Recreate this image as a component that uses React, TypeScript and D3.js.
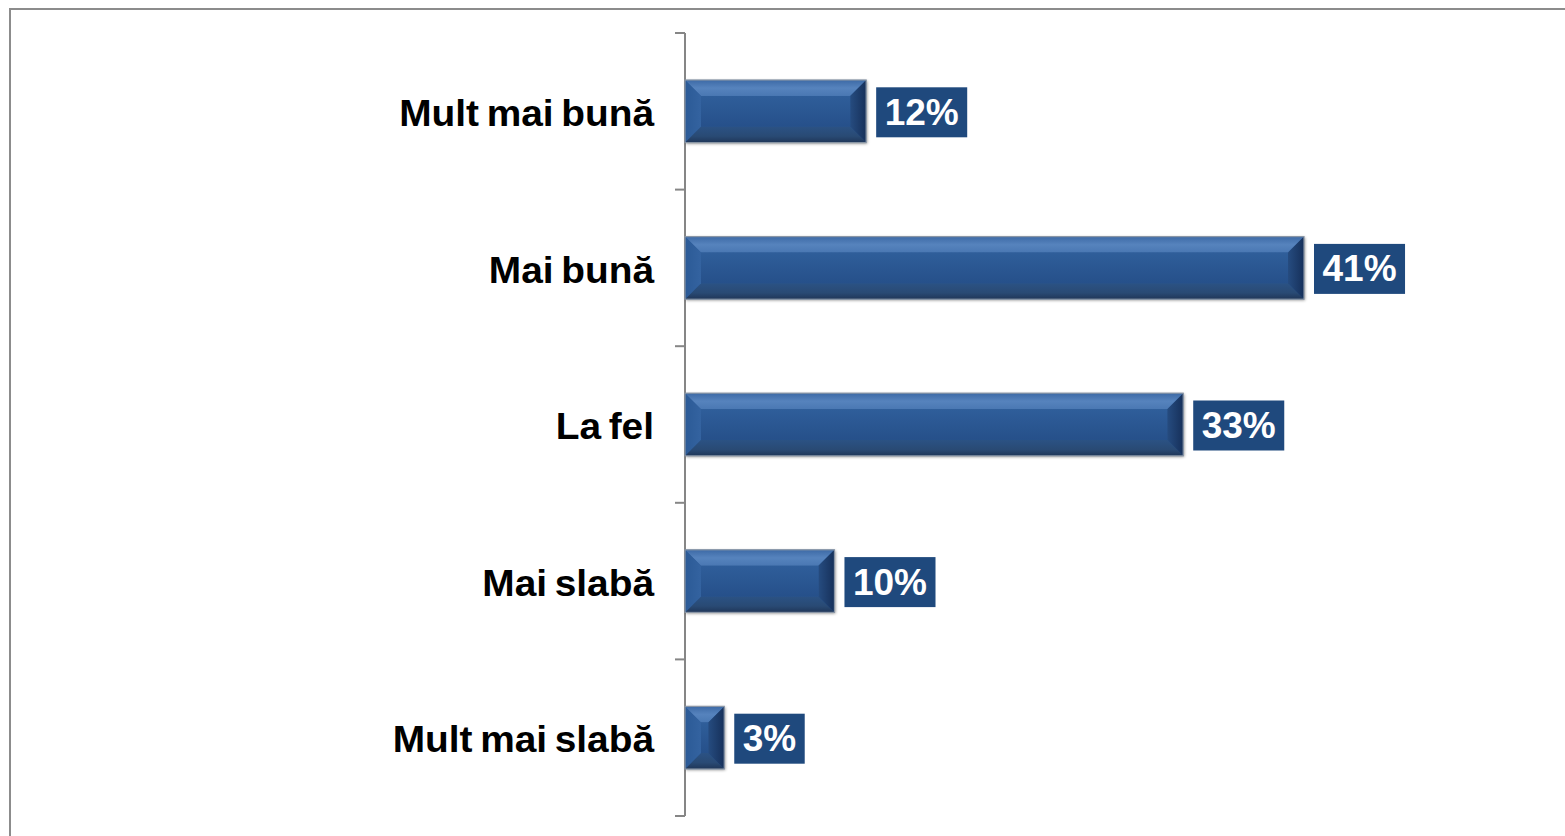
import React from "react";
import * as d3 from "d3";

const categories = ["Mult mai bună", "Mai bună", "La fel", "Mai slabă", "Mult mai slabă"];
const values = [12, 41, 33, 9.9, 2.6];
const labels = ["12%", "41%", "33%", "10%", "3%"];

const W = 1565;
const H = 836;
const FONT = "Liberation Sans, Arial, Helvetica, sans-serif";

function labelWidth(s: string, size: number) {
  let w = 0;
  for (const ch of s) w += ch === "%" ? 0.889 : 0.556;
  return w * size;
}

export default function App() {
  const x0 = 685;
  const x = d3.scaleLinear().domain([0, 41]).range([x0, 1304]);
  const y = d3.scaleBand<string>().domain(categories).range([33, 816]).paddingInner(0.6).paddingOuter(0.3);
  const yb = d3.scaleBand<string>().domain(categories).range([33, 816]);
  const bw = y.bandwidth();
  const bev = 16;
  const boundaries = categories.map((c) => yb(c)!).concat([816]);
  const pts = (arr: number[][]) => arr.map((p) => p.join(",")).join(" ");

  return (
    <svg width={W} height={H} style={{ position: "absolute", left: 0, top: 0, background: "#fff" }}>
      <defs>
        <filter id="sh" x="-10%" y="-20%" width="120%" height="140%">
          <feDropShadow dx="1" dy="1" stdDeviation="1.5" floodColor="#000" floodOpacity="0.45" />
        </filter>
        <linearGradient id="topG" x1="0" y1="0" x2="0" y2="1">
          <stop offset="0" stopColor="#3d6aa6" />
          <stop offset="0.5" stopColor="#5683bd" />
          <stop offset="1" stopColor="#4a78b3" />
        </linearGradient>
        <linearGradient id="botG" x1="0" y1="0" x2="0" y2="1">
          <stop offset="0" stopColor="#2b5284" />
          <stop offset="0.6" stopColor="#294a74" />
          <stop offset="1" stopColor="#1f3658" />
        </linearGradient>
        <linearGradient id="midG" x1="0" y1="0" x2="0" y2="1">
          <stop offset="0" stopColor="#2f5e9a" />
          <stop offset="1" stopColor="#26508a" />
        </linearGradient>
        <linearGradient id="rightG" x1="0" y1="0" x2="1" y2="0">
          <stop offset="0" stopColor="#264c80" />
          <stop offset="1" stopColor="#16305a" />
        </linearGradient>
        <linearGradient id="leftG" x1="0" y1="0" x2="1" y2="0">
          <stop offset="0" stopColor="#2b5a96" />
          <stop offset="1" stopColor="#3463a0" />
        </linearGradient>
      </defs>
      <rect x={10} y={9} width={W + 10} height={H + 10} fill="none" stroke="#8c8c8c" strokeWidth={2} />
      {/* axis */}
      <line x1={x0} x2={x0} y1={33} y2={816} stroke="#868686" strokeWidth={2} />
      {boundaries.map((b, i) => (
        <line key={i} x1={675} x2={x0} y1={b} y2={b} stroke="#868686" strokeWidth={2} />
      ))}
      {categories.map((c, i) => {
        const top = y(c)!;
        const left = x0;
        const right = x(values[i]);
        const bot = top + bw;
        const w = right - left;
        const b = Math.min(bev, w / 2, bw / 2);
        const cy = top + bw / 2;
        const lw = labelWidth(labels[i], 37) + 17;
        return (
          <g key={c}>
            <g filter="url(#sh)">
              <rect x={left} y={top} width={w} height={bw} fill="url(#midG)" />
            </g>
            <polygon points={pts([[left, top], [right, top], [right - b, top + b], [left + b, top + b]])} fill="url(#topG)" />
            <polygon points={pts([[left, bot], [right, bot], [right - b, bot - b], [left + b, bot - b]])} fill="url(#botG)" />
            <polygon points={pts([[left, top], [left + b, top + b], [left + b, bot - b], [left, bot]])} fill="url(#leftG)" />
            <polygon points={pts([[right, top], [right - b, top + b], [right - b, bot - b], [right, bot]])} fill="url(#rightG)" />
            <rect x={left + b} y={top + b} width={Math.max(0, w - 2 * b)} height={Math.max(0, bw - 2 * b)} fill="url(#midG)" />
            <rect x={left} y={top} width={w} height={bw} fill="none" stroke="#8a96a6" strokeWidth={1.2} />
            <rect x={right + 10} y={cy - 24} width={lw} height={50} fill="#1f497d" />
            <text x={right + 10 + lw / 2} y={cy + 1} textAnchor="middle" dominantBaseline="central"
              fill="#fff" fontFamily={FONT} fontWeight="bold" fontSize={37}>
              {labels[i]}
            </text>
            <g transform={`translate(654,${cy + 2}) scale(1.05,1)`}>
              <text x={0} y={0} textAnchor="end" dominantBaseline="central"
                fill="#000" fontFamily={FONT} fontWeight="bold" fontSize={37} wordSpacing={-3}>
                {c}
              </text>
            </g>
          </g>
        );
      })}
    </svg>
  );
}
